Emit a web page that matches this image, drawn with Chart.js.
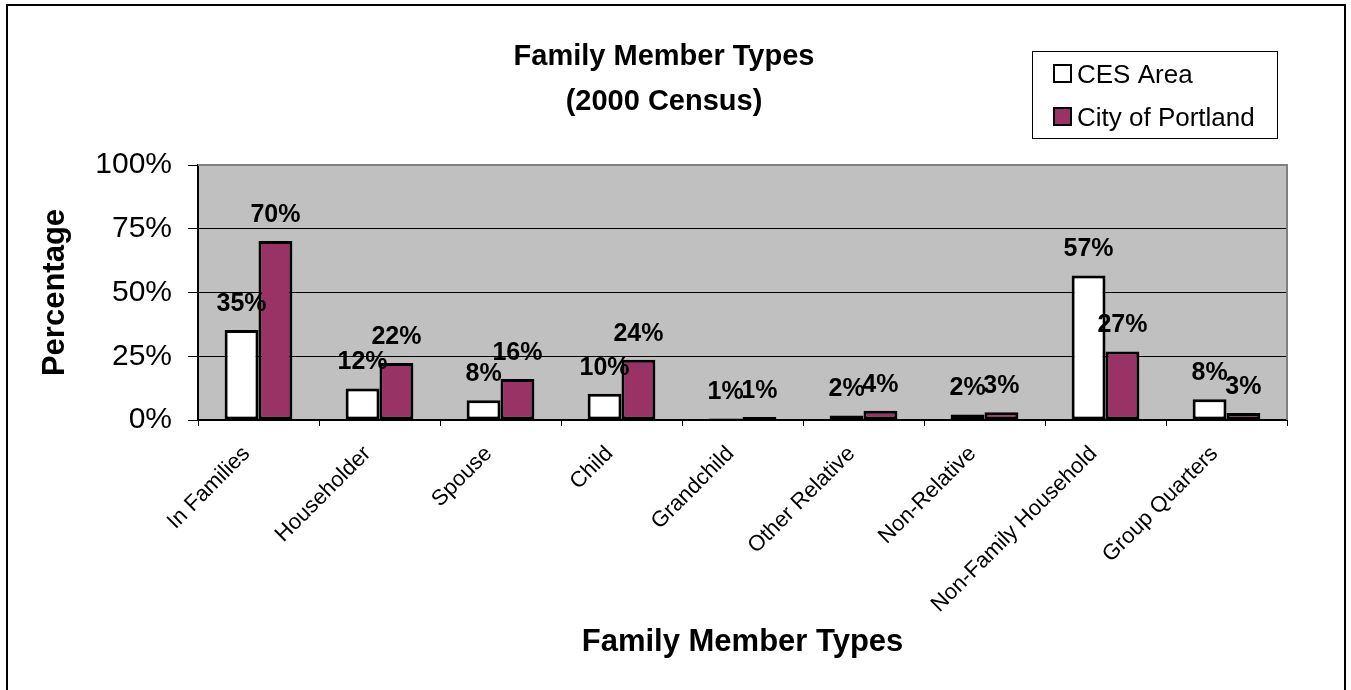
<!DOCTYPE html>
<html>
<head>
<meta charset="utf-8">
<script src="https://cdn.jsdelivr.net/npm/chart.js@4/dist/chart.umd.min.js"></script>
<style>
  html, body { margin: 0; padding: 0; background: #ffffff; }
  canvas { display: block; }
</style>
</head>
<body>
<canvas id="c" width="1351" height="690"></canvas>
<script>
const categories = ["In Families", "Householder", "Spouse", "Child", "Grandchild", "Other Relative", "Non-Relative", "Non-Family Household", "Group Quarters"];
const cesArea = [35.3, 12.4, 7.7, 10.3, 0.6, 1.8, 2.2, 56.7, 8.1];
const cityOfPortland = [70.2, 22.4, 16.1, 23.6, 1.2, 3.6, 3.0, 26.9, 2.7];
const seriesNames = ["CES Area", "City of Portland"];
const titleLines = ["Family Member Types", "(2000 Census)"];
const xAxisTitle = "Family Member Types";
const yAxisTitle = "Percentage";
const yTickValues = [0, 25, 50, 75, 100];

const FONT = "'Liberation Sans', Arial, Helvetica, sans-serif";
const PLUM = "#993366";
const PLOT_BG = "#C0C0C0";

const decorPlugin = {
  id: "decor",
  beforeDraw(chart) {
    const { ctx, chartArea: a } = chart;
    ctx.save();
    ctx.fillStyle = "#ffffff";
    ctx.fillRect(0, 0, chart.width, chart.height);
    ctx.fillStyle = PLOT_BG;
    ctx.fillRect(a.left, a.top, a.right - a.left, a.bottom - a.top);
    ctx.restore();
  },
  beforeDatasetsDraw(chart) {
    const { ctx, chartArea: a } = chart;
    ctx.save();
    ctx.strokeStyle = "#808080";
    ctx.lineWidth = 2;
    ctx.beginPath();
    ctx.moveTo(a.left, a.top);
    ctx.lineTo(a.right, a.top);
    ctx.lineTo(a.right, a.bottom);
    ctx.stroke();
    ctx.restore();
  },
  afterDatasetsDraw(chart) {
    const { ctx } = chart;
    ctx.save();
    ctx.fillStyle = "#000";
    ctx.font = "bold 25px " + FONT;
    ctx.textAlign = "center";
    ctx.textBaseline = "alphabetic";
    chart.data.datasets.forEach((ds, i) => {
      const meta = chart.getDatasetMeta(i);
      meta.data.forEach((bar, j) => {
        const v = ds.data[j];
        ctx.fillText(Math.round(v) + "%", bar.x, bar.y - 19);
      });
    });
    ctx.restore();
  },
  afterDraw(chart) {
    const { ctx } = chart;
    ctx.save();
    // Title
    ctx.fillStyle = "#000";
    ctx.font = "bold 29px " + FONT;
    ctx.textAlign = "center";
    ctx.textBaseline = "alphabetic";
    ctx.fillText(titleLines[0], 664, 65);
    ctx.fillText(titleLines[1], 664, 110);

    // Legend
    ctx.strokeStyle = "#000";
    ctx.lineWidth = 1;
    ctx.strokeRect(1032.5, 51.5, 245, 87);
    const items = chart.data.datasets;
    const ys = [74, 117];
    items.forEach((ds, i) => {
      ctx.fillStyle = ds.backgroundColor;
      ctx.fillRect(1054, ys[i] - 9, 17, 17);
      ctx.strokeStyle = "#000";
      ctx.lineWidth = 2;
      ctx.strokeRect(1054, ys[i] - 9, 17, 17);
      ctx.fillStyle = "#000";
      ctx.font = "26px " + FONT;
      ctx.textAlign = "left";
      ctx.textBaseline = "alphabetic";
      ctx.fillText(ds.label, 1077, ys[i] + 9);
    });

    // Outer border
    ctx.strokeStyle = "#000";
    ctx.lineWidth = 2;
    ctx.strokeRect(7, 5, 1338, 700);
    ctx.restore();
  }
};

new Chart(document.getElementById("c"), {
  type: "bar",
  data: {
    labels: categories,
    datasets: [
      {
        label: seriesNames[0],
        data: cesArea,
        backgroundColor: "#ffffff",
        borderColor: "#000000",
        borderWidth: 3,
        borderSkipped: false
      },
      {
        label: seriesNames[1],
        data: cityOfPortland,
        backgroundColor: PLUM,
        borderColor: "#000000",
        borderWidth: 3,
        borderSkipped: false
      }
    ]
  },
  options: {
    responsive: false,
    animation: false,
    devicePixelRatio: 1,
    categoryPercentage: 0.56,
    barPercentage: 1.0,
    layout: { padding: { top: 165, right: 64, left: 10, bottom: 10 } },
    plugins: {
      legend: { display: false },
      title: { display: false },
      tooltip: { enabled: false }
    },
    scales: {
      x: {
        afterFit(scale) { scale.height = 260; },
        grid: {
          offset: true,
          drawOnChartArea: false,
          drawTicks: true,
          tickLength: 6,
          color: "#000",
          lineWidth: 1
        },
        border: { color: "#000", width: 2 },
        ticks: {
          autoSkip: false,
          minRotation: 45,
          maxRotation: 45,
          padding: 15,
          labelOffset: -12,
          color: "#000",
          font: { family: FONT, size: 22 }
        },
        title: {
          display: true,
          text: xAxisTitle,
          color: "#000",
          font: { family: FONT, size: 31, weight: "bold" },
          padding: { top: 0, bottom: 19 }
        }
      },
      y: {
        min: 0,
        max: 100,
        afterFit(scale) { scale.width = 188; },
        afterBuildTicks(scale) { scale.ticks = yTickValues.map(v => ({ value: v })); },
        grid: {
          color: "#000",
          lineWidth: 1,
          tickLength: 10
        },
        border: { color: "#000", width: 2 },
        ticks: {
          stepSize: 25,
          padding: 16,
          color: "#000",
          font: { family: FONT, size: 30 },
          callback: v => v + "%"
        },
        title: {
          display: true,
          text: yAxisTitle,
          color: "#000",
          font: { family: FONT, size: 31, weight: "bold" },
          padding: { top: 27, bottom: 0 }
        }
      }
    }
  },
  plugins: [decorPlugin]
});
</script>
</body>
</html>
